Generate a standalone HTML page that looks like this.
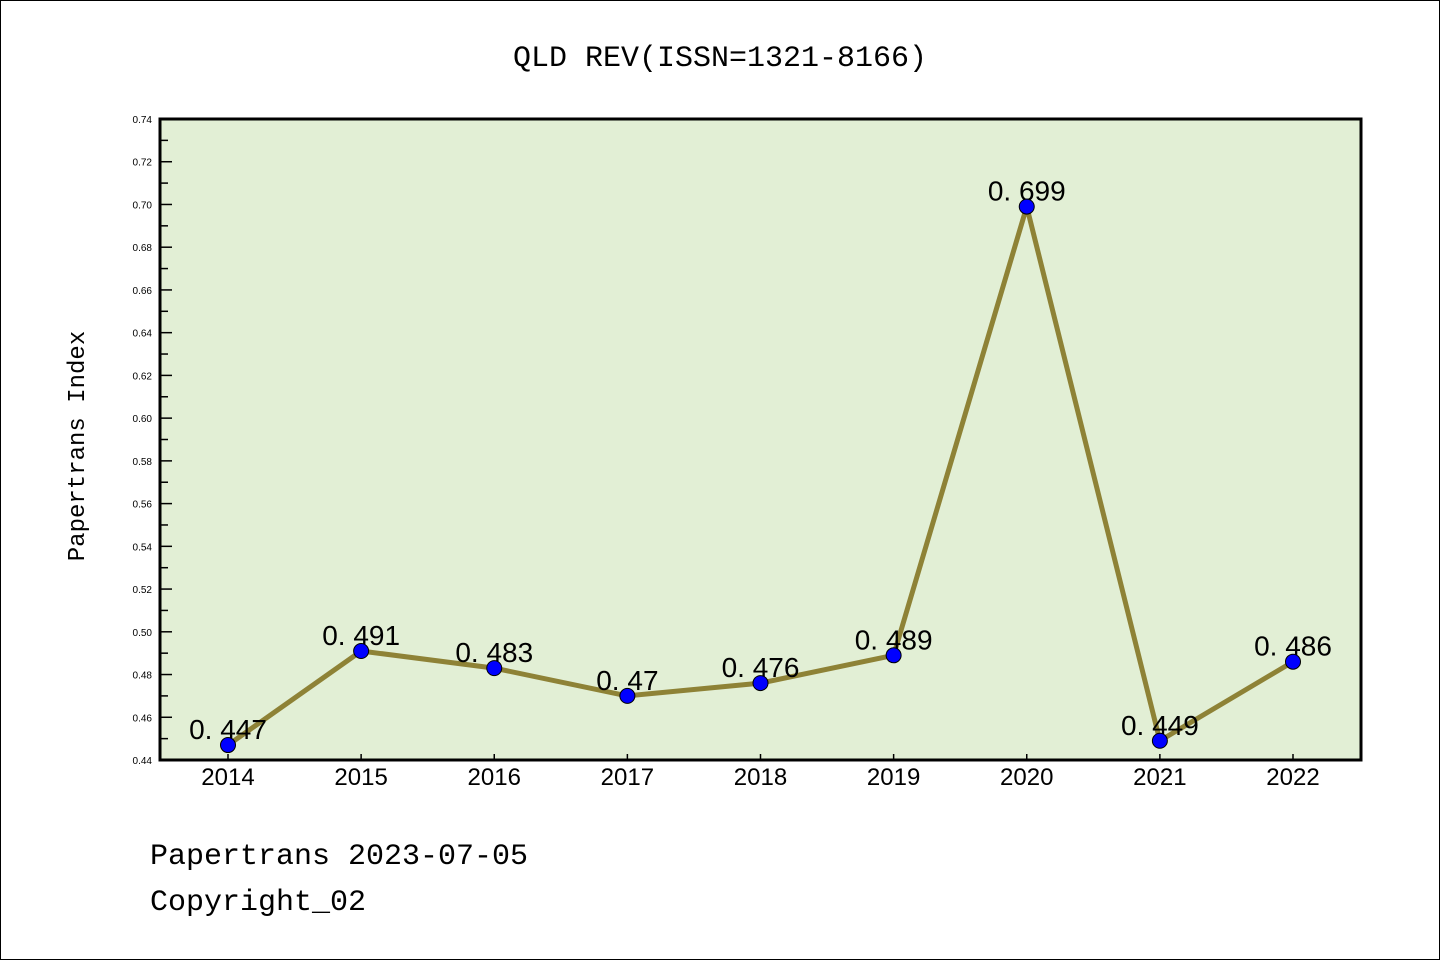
<!DOCTYPE html>
<html><head><meta charset="utf-8"><style>
body{margin:0;background:#fff}
svg{display:block}
text{font-family:"Liberation Sans","Noto Sans CJK SC",sans-serif}
.mono{font-family:"Liberation Mono","Noto Sans CJK SC",monospace}
</style></head><body>
<svg id="chart" width="1440" height="960">
<rect x="0.5" y="0.5" width="1439" height="959" fill="#fff" stroke="#000"/>
<text x="720" y="66" text-anchor="middle" font-size="30" class="mono">QLD REV(ISSN=1321-8166)</text>
<rect x="160" y="119" width="1201" height="641" fill="#e2efd5"/>
<g id="yaxis"></g><g id="xaxis"></g><g id="series"></g>
<rect x="160" y="119" width="1201" height="641" fill="none" stroke="#000" stroke-width="3"/>
<text transform="translate(84,446) rotate(-90)" text-anchor="middle" font-size="24" class="mono">Papertrans Index</text>
<text x="150" y="864" font-size="30" class="mono">Papertrans 2023-07-05</text>
<text x="150" y="910" font-size="30" class="mono">Copyright_02</text>
</svg>
<script>
const years=[2014,2015,2016,2017,2018,2019,2020,2021,2022];
const values=[0.447,0.491,0.483,0.47,0.476,0.489,0.699,0.449,0.486];
const labels=["0. 447","0. 491","0. 483","0. 47","0. 476","0. 489","0. 699","0. 449","0. 486"];
const yTicks=[0.44,0.46,0.48,0.50,0.52,0.54,0.56,0.58,0.60,0.62,0.64,0.66,0.68,0.70,0.72,0.74];
const NS="http://www.w3.org/2000/svg";
const yMin=0.44,yMax=0.74,plotTop=119,plotBot=760;
function yS(v){return plotBot-(v-yMin)/(yMax-yMin)*(plotBot-plotTop);}
function xS(i){return 228+i*(1293-228)/(years.length-1);}
function mk(t,a,p){const e=document.createElementNS(NS,t);for(const k in a)e.setAttribute(k,a[k]);p.appendChild(e);return e;}
const ya=document.getElementById('yaxis');
yTicks.forEach((v,i)=>{
  const y=yS(v);
  const l=mk('line',{x1:160,x2:172,y1:y,y2:y,stroke:'#000','stroke-width':1.5},ya);
  
  
  const t=mk('text',{x:152,y:y+4,'text-anchor':'end','font-size':10},ya);
  t.textContent=v.toFixed(2);
  
  
  if(i<yTicks.length-1){
    const ym=yS(v+0.01);
    const m=mk('line',{x1:160,x2:168,y1:ym,y2:ym,stroke:'#000','stroke-width':1.5},ya);
    
    
  }
});
const xa=document.getElementById('xaxis');
years.forEach((yr,i)=>{
  const x=xS(i);
  const l=mk('line',{x1:x,x2:x,y1:plotBot,y2:plotBot-6,stroke:'#000','stroke-width':1.5},xa);
  
  
  const t=mk('text',{x:x,y:785,'text-anchor':'middle','font-size':24},xa);
  t.textContent=yr;
  
  
});
const s=document.getElementById('series');
const pl=mk('polyline',{points:values.map((v,i)=>xS(i)+','+yS(v)).join(' '),fill:'none',stroke:'#8e8236','stroke-width':5,'stroke-linejoin':'round'},s);


values.forEach((v,i)=>{
  const t=mk('text',{x:xS(i),y:yS(v)-6,'text-anchor':'middle','font-size':28},s);
  t.textContent=labels[i];
  
  
});
values.forEach((v,i)=>{
  const c=mk('circle',{cx:xS(i),cy:yS(v),r:7.5,fill:'#0000ff',stroke:'#000','stroke-width':1},s);
  
  
});
</script>
</body></html>
